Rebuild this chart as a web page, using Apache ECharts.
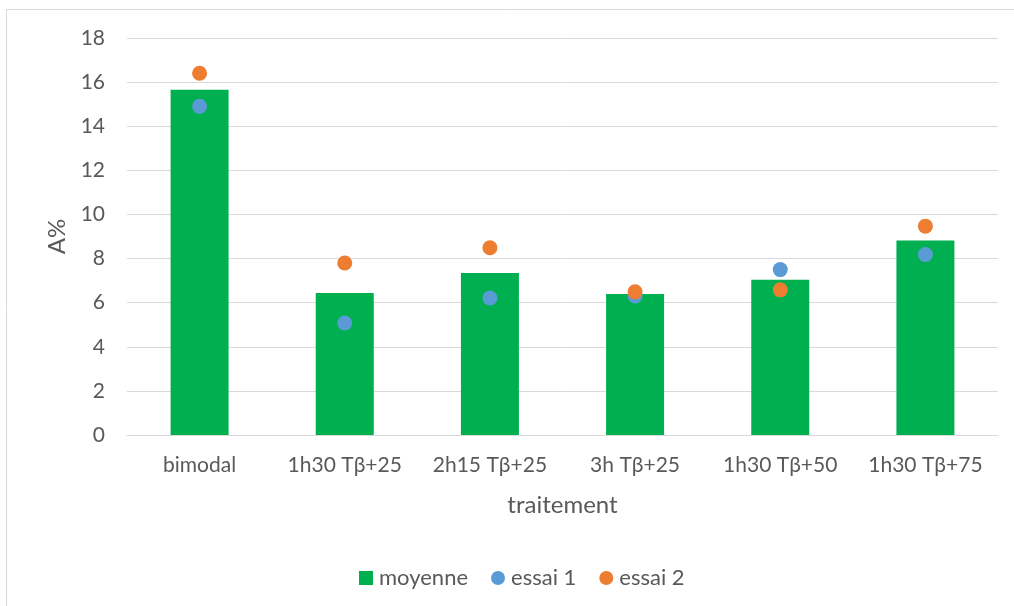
<!DOCTYPE html>
<html><head><meta charset="utf-8">
<script src="https://cdn.jsdelivr.net/npm/echarts@6/dist/echarts.min.js"></script>
<style>html,body{margin:0;padding:0;background:#fff}#c{width:1014px;height:606px}</style>
</head><body><div id="c"></div>
<script>
const categories = ['bimodal','1h30 Tβ+25','2h15 Tβ+25','3h Tβ+25','1h30 Tβ+50','1h30 Tβ+75'];
const moyenne = [15.65, 6.44, 7.35, 6.39, 7.04, 8.82];
const essai1 = [14.9, 5.08, 6.21, 6.3, 7.5, 8.18];
const essai2 = [16.4, 7.8, 8.49, 6.49, 6.58, 9.47];
const yTicks = [0,2,4,6,8,10,12,14,16,18];

const font = 'Lato, "Open Sans", sans-serif';
const grey = '#595959';
const chart = echarts.init(document.getElementById('c'));
chart.setOption({
  animation:false,
  textStyle:{fontFamily:font},
  graphic:[{type:'rect',shape:{x:6.5,y:9.5,width:1100,height:700},style:{fill:'none',stroke:'#d9d9d9',lineWidth:1},silent:true}],
  grid:{left:127,right:16,top:38,bottom:171,containLabel:false},
  legend:{top:562,left:354,itemGap:23,itemWidth:14,itemHeight:14,
    textStyle:{color:grey,fontSize:22,fontFamily:font,padding:[0,0,0,1]},
    data:[{name:'moyenne',icon:'rect'},{name:'essai 1',icon:'circle'},{name:'essai 2',icon:'circle'}]},
  xAxis:{type:'category',data:categories,name:'traitement',nameLocation:'middle',nameGap:58,
    nameTextStyle:{color:grey,fontSize:24,fontFamily:font},
    axisLine:{lineStyle:{color:'#d9d9d9'}},axisTick:{show:false},
    axisLabel:{color:grey,fontSize:21,margin:20,interval:0,fontFamily:font}},
  yAxis:{type:'value',min:yTicks[0],max:yTicks[yTicks.length-1],interval:2,name:'A%',nameLocation:'middle',nameGap:58,
    nameTextStyle:{color:grey,fontSize:24,fontFamily:font},
    axisLine:{show:false},axisTick:{show:false},
    axisLabel:{color:grey,fontSize:21,margin:22,fontFamily:font},
    splitLine:{lineStyle:{color:'#d9d9d9',width:1}}},
  series:[
    {name:'moyenne',type:'bar',data:moyenne,barWidth:58,itemStyle:{color:'#00B050'}},
    {name:'essai 1',type:'scatter',data:essai1,symbolSize:15,itemStyle:{color:'#5B9BD5',opacity:1}},
    {name:'essai 2',type:'scatter',data:essai2,symbolSize:15,itemStyle:{color:'#ED7D31',opacity:1}}
  ]
});
</script></body></html>
